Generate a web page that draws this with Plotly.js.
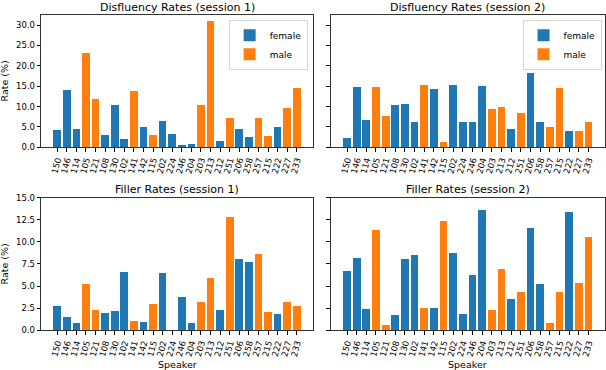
<!DOCTYPE html>
<html>
<head>
<meta charset="utf-8">
<script src="https://cdn.plot.ly/plotly-3.0.1.min.js"></script>
<style>
  html, body { margin: 0; padding: 0; background: #fff; }
  #chart { width: 606px; height: 370px; }
</style>
</head>
<body>
<div id="chart"></div>
<script>
// speakers in plotted order, with gender (F = female, M = male)
const speakers = ['150', '146', '114', '105', '121', '108', '130', '102', '141', '142', '115', '202', '224',
                  '246', '204', '203', '213', '212', '251', '206', '258', '257', '215', '222', '227', '233'];
const genders = ['F', 'F', 'F', 'M', 'M', 'F', 'F', 'F', 'M', 'F', 'M', 'F', 'F',
                 'F', 'F', 'M', 'M', 'F', 'M', 'F', 'F', 'M', 'M', 'F', 'M', 'M'];

// rates (%)
const disfluencyS1 = [4.2, 14.1, 4.5, 23.1, 11.9, 3.0, 10.5, 2.0, 13.8, 5.1, 3.0, 6.5, 3.2,
                      0.5, 0.8, 10.5, 31.0, 1.5, 7.1, 4.4, 2.5, 7.3, 2.7, 5.1, 9.7, 14.5];
const disfluencyS2 = [2.2, 14.9, 6.6, 14.8, 7.8, 10.4, 10.6, 6.1, 15.3, 14.2, 1.2, 15.2, 6.3,
                      6.1, 15.0, 9.5, 10.0, 4.6, 8.5, 18.3, 6.3, 5.0, 14.5, 3.9, 3.9, 6.3];
const fillerS1 = [2.8, 1.5, 0.85, 5.2, 2.25, 2.0, 2.15, 6.6, 1.05, 0.95, 3.0, 6.5, 0.0,
                  3.8, 0.8, 3.15, 5.9, 2.3, 12.8, 8.1, 7.7, 8.65, 2.1, 1.85, 3.2, 2.8];
const fillerS2 = [6.75, 8.15, 2.45, 11.4, 0.6, 1.75, 8.1, 8.5, 2.55, 2.55, 12.35, 8.75, 1.8,
                  6.2, 13.6, 2.35, 6.95, 3.55, 4.35, 11.55, 5.25, 0.85, 4.35, 13.35, 5.35, 10.6];

const titles = ['Disfluency Rates (session 1)', 'Disfluency Rates (session 2)',
                'Filler Rates (session 1)', 'Filler Rates (session 2)'];

const BLUE = '#1f77b4';
const ORANGE = '#ff7f0e';
const FONT = 'DejaVu Sans, sans-serif';

function pick(values, g) {
    return values.map((v, i) => genders[i] === g ? v : null);
}

function barTraces(values, xa, ya, legendName, showlegend) {
    return [
        { x: speakers, y: pick(values, 'F'), name: 'female', type: 'bar', width: 0.8,
          marker: { color: BLUE, line: { width: 0 } }, xaxis: xa, yaxis: ya,
          legend: legendName, showlegend: showlegend },
        { x: speakers, y: pick(values, 'M'), name: 'male', type: 'bar', width: 0.8,
          marker: { color: ORANGE, line: { width: 0 } }, xaxis: xa, yaxis: ya,
          legend: legendName, showlegend: showlegend }
    ];
}

const data = [
    ...barTraces(disfluencyS1, 'x', 'y', 'legend', true),
    ...barTraces(disfluencyS2, 'x2', 'y2', 'legend2', true),
    ...barTraces(fillerS1, 'x3', 'y3', 'legend', false),
    ...barTraces(fillerS2, 'x4', 'y4', 'legend', false)
];

const xBase = {
    type: 'category', categoryorder: 'array', categoryarray: speakers,
    tickmode: 'array', tickvals: speakers, ticktext: speakers,
    range: [-1.69, 26.69], tickangle: -75, ticks: 'outside', ticklen: 3.5,
    tickcolor: '#000', tickfont: { family: FONT, size: 8.5, color: '#000' },
    showline: true, linecolor: '#000', linewidth: 0.8, mirror: true,
    showgrid: false, zeroline: false, fixedrange: true
};
const yBase = {
    ticks: 'outside', ticklen: 3.5, tickcolor: '#000', tickformat: '.1f',
    tickfont: { family: FONT, size: 8.5, color: '#000' },
    showline: true, linecolor: '#000', linewidth: 0.8, mirror: true,
    showgrid: false, zeroline: false, fixedrange: true
};

const leftDom = [0.0677, 0.5165];
const rightDom = [0.5457, 0.998];
const topDom = [0.6019, 0.9603];
const botDom = [0.1073, 0.4657];

const legendBase = {
    font: { family: FONT, size: 9, color: '#000' },
    bgcolor: 'rgba(255,255,255,0.8)', bordercolor: '#ccc', borderwidth: 0.8,
    xanchor: 'right', yanchor: 'top', tracegroupgap: 0
};

function ann(text, x, y, size, extra = {}) {
    return { text: text, x: x, y: y, xref: 'paper', yref: 'paper', showarrow: false,
             xanchor: 'center', yanchor: 'middle',
             font: { family: FONT, size: size, color: '#000' }, ...extra };
}

const layout = {
    width: 606, height: 370,
    margin: { l: 0, r: 0, t: 0, b: 0 },
    paper_bgcolor: '#fff', plot_bgcolor: '#fff',
    barmode: 'overlay', bargap: 0,
    xaxis: { ...xBase, domain: leftDom, anchor: 'y' },
    yaxis: { ...yBase, domain: topDom, anchor: 'x', range: [0, 32.55], dtick: 5 },
    xaxis2: { ...xBase, domain: rightDom, anchor: 'y2' },
    yaxis2: { ...yBase, domain: topDom, anchor: 'x2', range: [0, 32.55], dtick: 5, showticklabels: false },
    xaxis3: { ...xBase, domain: leftDom, anchor: 'y3' },
    yaxis3: { ...yBase, domain: botDom, anchor: 'x3', range: [0, 15], dtick: 2.5 },
    xaxis4: { ...xBase, domain: rightDom, anchor: 'y4' },
    yaxis4: { ...yBase, domain: botDom, anchor: 'x4', range: [0, 15], dtick: 2.5, showticklabels: false },
    legend: { ...legendBase, x: 0.508, y: 0.946 },
    legend2: { ...legendBase, x: 0.993, y: 0.946 },
    annotations: [
        ann(titles[0], (leftDom[0] + leftDom[1]) / 2, 0.9797, 11),
        ann(titles[1], (rightDom[0] + rightDom[1]) / 2, 0.9797, 11),
        ann(titles[2], (leftDom[0] + leftDom[1]) / 2, 0.4865, 11),
        ann(titles[3], (rightDom[0] + rightDom[1]) / 2, 0.4865, 11),
        ann('Rate (%)', 0.009, (topDom[0] + topDom[1]) / 2, 9.5, { textangle: -90 }),
        ann('Rate (%)', 0.009, (botDom[0] + botDom[1]) / 2, 9.5, { textangle: -90 }),
        ann('Speaker', (leftDom[0] + leftDom[1]) / 2, 0.016, 9.5),
        ann('Speaker', (rightDom[0] + rightDom[1]) / 2, 0.016, 9.5)
    ]
};

Plotly.newPlot('chart', data, layout, { displayModeBar: false, staticPlot: true });
</script>
</body>
</html>
